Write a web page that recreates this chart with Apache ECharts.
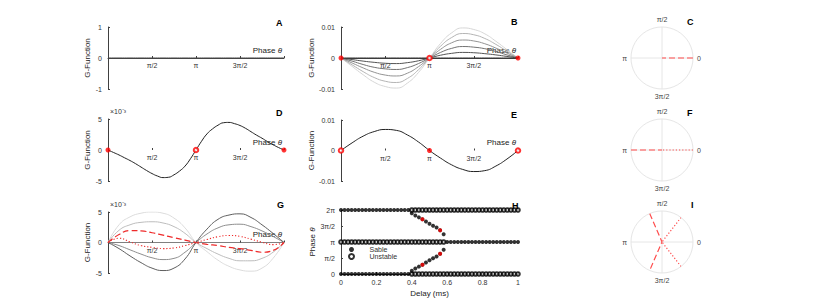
<!DOCTYPE html>
<html><head><meta charset="utf-8">
<script src="https://cdn.jsdelivr.net/npm/echarts@6/dist/echarts.min.js"></script>
<style>html,body{margin:0;padding:0;background:#fff}#c{width:830px;height:307px}</style>
</head><body><div id="c"></div>
<script>
// ---------- data (phases in units of π) ----------
const phase = [0,0.125,0.25,0.375,0.5,0.625,0.75,0.875,1,1.125,1.25,1.375,1.5,1.625,1.75,1.875,2];
const phaseFine = [0,0.0625,0.125,0.1875,0.25,0.3125,0.375,0.4375,0.5,0.5625,0.625,0.6875,0.75,0.8125,0.875,0.9375,1,
                   1.0625,1.125,1.1875,1.25,1.3125,1.375,1.4375,1.5,1.5625,1.625,1.6875,1.75,1.8125,1.875,1.9375,2];
const phaseTickVals = [0.5, 1, 1.5];
const phaseTickLabels = ['π/2', 'π', '3π/2'];
const polarTickVals = [0, 0.5, 1, 1.5];
const polarTickLabels = ['0', 'π/2', 'π', '3π/2'];
const smallTickVals = [-10, 0, 10];           // B, E values stored in units of 1e-3
const smallTickLabels = ['-0.01', '0', '0.01'];
const hYTickVals = [0, 0.5, 1, 1.5, 2];
const hYTickLabels = ['0', 'π/2', 'π', '3π/2', '2π'];

// A
const aG = [0,0,0,0,0,0,0,0,0,0,0,0,0,0,0,0,0];
// B (×1e-3), darkest to lightest
const bG0 = [0,0,0,0,0,0,0,0,0,0,0,0,0,0,0,0,0];
const bG1 = [0,-0.5,-1.0,-1.4,-1.7,-1.8,-1.5,-0.9,0,0.9,1.5,1.8,1.7,1.4,1.0,0.5,0];
const bG2 = [0,-1.0,-2.1,-3.0,-3.5,-3.7,-3.1,-1.8,0,1.8,3.1,3.7,3.5,3.0,2.1,1.0,0];
const bG3 = [0,-1.6,-3.2,-4.6,-5.5,-5.8,-4.9,-2.8,0,2.8,4.9,5.8,5.5,4.6,3.2,1.6,0];
const bG4 = [0,-2.2,-4.4,-6.3,-7.5,-7.9,-6.6,-3.8,0,3.8,6.6,7.9,7.5,6.3,4.4,2.2,0];
const bG5 = [0,-2.7,-5.4,-7.8,-9.2,-9.7,-8.1,-4.7,0,4.7,8.1,9.7,9.2,7.8,5.4,2.7,0];
const bStableFP = [0, 2];
const bUnstableFP = [1];
// D (×1e-3), sampled on phaseFine
const dG = [0,-0.4,-0.8,-1.25,-1.7,-2.2,-2.75,-3.3,-3.8,-4.2,-4.45,-4.4,-4.0,-3.4,-2.6,-1.4,0,
            1.4,2.6,3.4,4.0,4.4,4.45,4.25,3.95,3.5,2.95,2.4,1.9,1.35,0.85,0.4,0];
const dStableFP = [0, 2];
const dUnstableFP = [1];
// E (×1e-3)
const eG = [0,2.5,4.7,6.2,6.9,6.6,5.1,2.8,0,-2.5,-4.7,-6.2,-6.9,-6.6,-5.1,-2.8,0];
const eStableFP = [1];
const eUnstableFP = [0, 2];
// G (×1e-3)
const gLight  = [0,2.9,4.2,4.8,5.0,4.8,4.0,2.4,0,-1.5,-2.9,-3.9,-4.5,-4.7,-4.2,-2.6,0];
const gLight2 = [0,2.0,2.9,3.3,3.4,3.2,2.6,1.5,0,-1.0,-1.9,-2.6,-3.0,-3.0,-2.6,-1.6,0];
const gDark2  = [0,-0.5,-1.2,-1.9,-2.5,-2.8,-2.6,-1.6,0,1.4,2.4,2.9,3.0,2.6,1.9,1.0,0];
const gDark   = [0,-1.0,-2.2,-3.3,-4.2,-4.6,-4.2,-2.7,0,2.2,3.8,4.5,4.7,4.1,2.9,1.5,0];
const gDashed = [0,1.3,1.95,1.9,1.6,1.2,0.8,0.4,0,-0.3,-0.5,-0.8,-1.0,-1.3,-1.6,-1.3,0];
const gDotted = [0,0.7,0.1,-0.5,-0.8,-1.0,-0.9,-0.5,0,0.5,0.95,1.15,1.0,0.55,0.05,-0.35,0];
// H
const hStableEdgeDelay = [0,0.02,0.04,0.06,0.08,0.1,0.12,0.14,0.16,0.18,0.2,0.22,0.24,0.26,0.28,0.3,0.32,0.34,0.36,0.38];
const hUnstableEdgeDelay = [0.4,0.42,0.44,0.46,0.48,0.5,0.52,0.54,0.56,0.58,0.6,0.62,0.64,0.66,0.68,0.7,0.72,0.74,0.76,0.78,0.8,0.82,0.84,0.86,0.88,0.9,0.92,0.94,0.96,0.98,1];
const hUnstablePiDelay = [0,0.02,0.04,0.06,0.08,0.1,0.12,0.14,0.16,0.18,0.2,0.22,0.24,0.26,0.28,0.3,0.32,0.34,0.36,0.38,0.4,0.42,0.44,0.46,0.48,0.5,0.52,0.54,0.56,0.58];
const hStablePiDelay = [0.6,0.62,0.64,0.66,0.68,0.7,0.72,0.74,0.76,0.78,0.8,0.82,0.84,0.86,0.88,0.9,0.92,0.94,0.96,0.98,1];
const hBranchDelay = [0.4,0.42,0.44,0.46,0.48,0.5,0.52,0.54,0.56,0.58];
const hBranchUpper = [1.90,1.83,1.77,1.71,1.64,1.57,1.51,1.45,1.37,1.24];
const hBranchLower = [0.10,0.17,0.23,0.29,0.36,0.43,0.49,0.55,0.63,0.76];
const hRedDelay = [0.46, 0.56];
const hRedUpper = [1.71, 1.37];
const hRedLower = [0.29, 0.63];
// polar panels (stable phases)
const cDashed = [0];
const fDashed = [1];
const fDotted = [0];
const iDashed = [0.63, 1.37];
const iDotted = [0.29, 1.71];

// ---------- helpers ----------
const FONT = '"Liberation Sans", Arial, sans-serif';
const AX = '#404040';
const NAMEC = '#222';
const pts = (xs, ys) => xs.map((x, i) => [x, ys[i]]);
const at = (xs, y) => xs.map(x => [x, y]);
const lookup = (vals, labs) => v => { const i = vals.findIndex(t => Math.abs(t - v) < 1e-9); return i < 0 ? '' : labs[i]; };
const ray = ps => ps.flatMap((p, i) => i === 0 ? [[1, p], [0, p]] : [[0, p], [1, p]]);

// x axis drawn through G = 0 (the middle of each symmetric y range)
function phaseX(gi, lineColor, halfHeight) {
  return {
    type: 'value', gridIndex: gi, min: 0, max: 2, interval: 0.5, position: 'bottom', offset: -halfHeight,
    axisLine: { show: true, onZero: false, lineStyle: { color: lineColor, width: 1 } },
    axisTick: { show: true, inside: true, length: 2, lineStyle: { color: AX } },
    axisLabel: { fontSize: 7, color: '#333', margin: 4, fontFamily: FONT, formatter: lookup(phaseTickVals, phaseTickLabels) },
    splitLine: { show: false },
    name: 'Phase {i|θ}', nameLocation: 'end', nameGap: -2,
    nameTextStyle: { fontSize: 8, color: NAMEC, fontFamily: FONT, align: 'right', verticalAlign: 'bottom', padding: [0, 0, 4, 0],
      rich: { i: { fontStyle: 'italic', fontSize: 8, fontFamily: FONT, color: NAMEC } } }
  };
}
function gY(gi, min, max, interval, gap, fmt) {
  return {
    type: 'value', gridIndex: gi, min, max, interval,
    axisLine: { show: true, onZero: false, lineStyle: { color: AX, width: 1 } },
    axisTick: { show: true, inside: true, length: 2, lineStyle: { color: AX } },
    axisLabel: { fontSize: 7, color: '#333', margin: 6, fontFamily: FONT, formatter: fmt },
    splitLine: { show: false },
    name: 'G-Function', nameLocation: 'middle', nameGap: gap,
    nameTextStyle: { fontSize: 8, color: NAMEC, fontFamily: FONT }
  };
}
function curve(gi, ys, color, extra, xs) {
  return Object.assign({
    type: 'line', xAxisIndex: gi, yAxisIndex: gi, data: pts(xs || phase, ys), smooth: 0.5,
    showSymbol: false, symbol: 'none', silent: true,
    lineStyle: { color, width: 1 }
  }, extra || {});
}
function fp(gi, xs, filled, color) {
  return {
    type: 'scatter', xAxisIndex: gi, yAxisIndex: gi, data: at(xs, 0), clip: false, z: 5,
    symbol: filled ? 'circle' : 'emptyCircle', symbolSize: filled ? 5 : 4.5,
    itemStyle: filled ? { color } : { color, borderColor: color, borderWidth: 1 }
  };
}
function polarAngle(pi) {
  return {
    polarIndex: pi, type: 'value', min: 0, max: 2, interval: 0.5, startAngle: 0, clockwise: false,
    axisLine: { show: true, lineStyle: { color: '#e6e6e6', width: 1 } },
    axisTick: { show: false },
    splitLine: { show: true, lineStyle: { color: '#e6e6e6', width: 1 } },
    axisLabel: { fontSize: 7, color: '#444', margin: 4, fontFamily: FONT, formatter: lookup(polarTickVals, polarTickLabels) }
  };
}
function polarRadius(pi) {
  return { polarIndex: pi, type: 'value', min: 0, max: 1, axisLine: { show: false }, axisTick: { show: false }, axisLabel: { show: false }, splitLine: { show: false } };
}
function polarLine(pi, phases, dash) {
  return {
    type: 'line', coordinateSystem: 'polar', polarIndex: pi, data: ray(phases), showSymbol: false, symbol: 'none', silent: true,
    lineStyle: { color: '#ff4d4d', width: 1.2, type: dash }
  };
}

const DASH = [6, 3];
const DOT = [1.2, 2];
const letters = [['A',276,18],['B',511,17],['C',687,17],['D',276,108],['E',511,110],['F',687,108],['G',277,200],['H',512,201],['I',691,200]];
const titles = letters.map(([t, l, tp]) => ({ text: t, left: l, top: tp, padding: 0, textStyle: { fontSize: 9, fontWeight: 'bold', color: '#000', fontFamily: FONT } }));
titles.push({ text: '×10⁻³', left: 110, top: 108, padding: 0, textStyle: { fontSize: 7, fontWeight: 'normal', color: '#333', fontFamily: FONT } });
titles.push({ text: '×10⁻³', left: 110, top: 201, padding: 0, textStyle: { fontSize: 7, fontWeight: 'normal', color: '#333', fontFamily: FONT } });

const option = {
  animation: false,
  backgroundColor: '#fff',
  textStyle: { fontFamily: FONT },
  title: titles,
  grid: [
    { left: 108, top: 27, width: 176, height: 62 },
    { left: 341, top: 27, width: 177, height: 62 },
    { left: 108, top: 119, width: 176, height: 62 },
    { left: 341, top: 120, width: 177, height: 61 },
    { left: 108, top: 212, width: 176, height: 61 },
    { left: 341, top: 210, width: 177, height: 64 }
  ],
  xAxis: [
    phaseX(0, '#444', 31),
    phaseX(1, '#444', 31),
    phaseX(2, 'rgba(0,0,0,0)', 31),
    phaseX(3, 'rgba(0,0,0,0)', 30.5),
    phaseX(4, '#808080', 30.5),
    {
      type: 'value', gridIndex: 5, min: 0, max: 1, interval: 0.2,
      axisLine: { show: true, lineStyle: { color: AX } },
      axisTick: { show: true, inside: true, length: 2, lineStyle: { color: AX } },
      axisLabel: { fontSize: 7, color: '#333', margin: 5, fontFamily: FONT },
      splitLine: { show: false },
      name: 'Delay (ms)', nameLocation: 'middle', nameGap: 15,
      nameTextStyle: { fontSize: 8, color: NAMEC, fontFamily: FONT }
    }
  ],
  yAxis: [
    gY(0, -1, 1, 1, 13),
    gY(1, -10, 10, 10, 24, lookup(smallTickVals, smallTickLabels)),
    gY(2, -5, 5, 5, 13),
    gY(3, -10, 10, 10, 24, lookup(smallTickVals, smallTickLabels)),
    gY(4, -5, 5, 5, 13),
    {
      type: 'value', gridIndex: 5, min: 0, max: 2, interval: 0.5,
      axisLine: { show: true, onZero: false, lineStyle: { color: AX } },
      axisTick: { show: true, inside: true, length: 2, lineStyle: { color: AX } },
      axisLabel: { fontSize: 7, color: '#333', margin: 6, fontFamily: FONT, formatter: lookup(hYTickVals, hYTickLabels) },
      splitLine: { show: false },
      name: 'Phase {i|θ}', nameLocation: 'middle', nameGap: 22,
      nameTextStyle: { fontSize: 8, color: NAMEC, fontFamily: FONT, rich: { i: { fontStyle: 'italic', fontSize: 8, fontFamily: FONT, color: NAMEC } } }
    }
  ],
  polar: [
    { center: [662, 58], radius: 31 },
    { center: [662, 150], radius: 31 },
    { center: [662, 242], radius: 31 }
  ],
  angleAxis: [polarAngle(0), polarAngle(1), polarAngle(2)],
  radiusAxis: [polarRadius(0), polarRadius(1), polarRadius(2)],
  legend: {
    data: ['Sable', 'Unstable'], orient: 'vertical', left: 348, top: 246, itemWidth: 26, itemHeight: 5, itemGap: 0,
    selectedMode: false, padding: 0,
    textStyle: { fontSize: 7, color: '#333', fontFamily: FONT }
  },
  series: [
    // A
    curve(0, aG, '#444'),
    // B
    curve(1, bG5, '#d6d6d6'),
    curve(1, bG4, '#b4b4b4'),
    curve(1, bG3, '#939393'),
    curve(1, bG2, '#737373'),
    curve(1, bG1, '#545454'),
    curve(1, bG0, '#333'),
    fp(1, bStableFP, true, '#ff0000'),
    fp(1, bUnstableFP, false, '#ff0000'),
    // D
    curve(2, dG, '#222', null, phaseFine),
    fp(2, dStableFP, true, '#ff0000'),
    fp(2, dUnstableFP, false, '#ff0000'),
    // E
    curve(3, eG, '#222'),
    fp(3, eStableFP, true, '#ff0000'),
    fp(3, eUnstableFP, false, '#ff0000'),
    // G
    curve(4, gLight, '#dcdcdc'),
    curve(4, gLight2, '#bdbdbd'),
    curve(4, gDark2, '#8e8e8e'),
    curve(4, gDark, '#5e5e5e'),
    curve(4, gDashed, '#ee2a2a', { lineStyle: { color: '#ee2a2a', width: 1.2, type: DASH } }),
    curve(4, gDotted, '#ee2a2a', { lineStyle: { color: '#ee2a2a', width: 1.1, type: DOT } }),
    // H
    {
      name: 'Unstable', type: 'scatter', xAxisIndex: 5, yAxisIndex: 5, clip: false, symbol: 'emptyCircle', symbolSize: 3.6,
      itemStyle: { color: '#000', borderColor: '#000', borderWidth: 0.8 },
      data: [].concat(at(hUnstableEdgeDelay, 0), at(hUnstableEdgeDelay, 2), at(hUnstablePiDelay, 1))
    },
    {
      name: 'Sable', type: 'scatter', xAxisIndex: 5, yAxisIndex: 5, clip: false, symbol: 'circle', symbolSize: 4,
      itemStyle: { color: '#000' },
      data: [].concat(at(hStableEdgeDelay, 0), at(hStableEdgeDelay, 2), at(hStablePiDelay, 1), pts(hBranchDelay, hBranchUpper), pts(hBranchDelay, hBranchLower))
    },
    {
      type: 'scatter', xAxisIndex: 5, yAxisIndex: 5, clip: false, symbol: 'circle', symbolSize: 4, z: 5,
      itemStyle: { color: '#ff0000' },
      data: [].concat(pts(hRedDelay, hRedUpper), pts(hRedDelay, hRedLower))
    },
    // polar C, F, I
    polarLine(0, cDashed, DASH),
    polarLine(1, fDashed, DASH),
    polarLine(1, fDotted, DOT),
    polarLine(2, iDashed, DASH),
    polarLine(2, iDotted, DOT)
  ]
};
const chart = echarts.init(document.getElementById('c'), null, { renderer: 'svg', width: 830, height: 307 });
chart.setOption(option);
</script>
</body></html>
